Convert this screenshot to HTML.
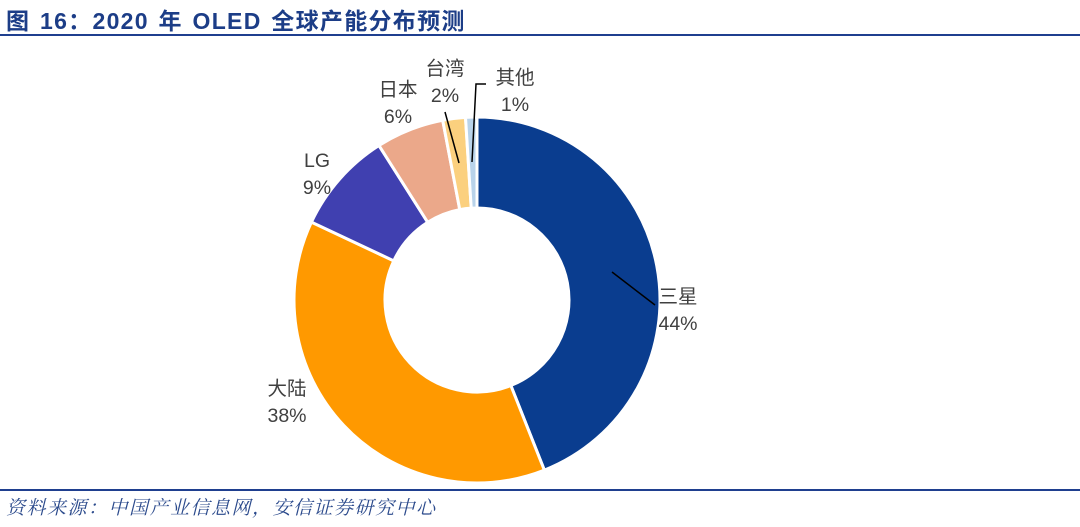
<!DOCTYPE html>
<html><head><meta charset="utf-8"><style>
body{margin:0;width:1080px;height:527px;background:#fff;overflow:hidden;font-family:"Liberation Sans","Noto Sans CJK SC",sans-serif;}
.t{position:absolute;left:6px;top:2px;font-size:23px;font-weight:bold;color:#1c3d87;letter-spacing:1.3px;word-spacing:2px}
.f{position:absolute;left:6px;top:493px;font-size:19px;font-style:italic;color:#2b4a8c;letter-spacing:1.5px;font-family:"Liberation Serif","Noto Serif CJK SC",serif}
</style></head><body>
<div class="t">图 16：2020 年 OLED 全球产能分布预测</div>
<div style="position:absolute;left:0;top:34px;width:1080px;height:2px;background:#1f3f8f"></div>
<div style="position:absolute;left:0;top:489px;width:1080px;height:2px;background:#1f3f8f"></div>
<div class="f">资料来源：中国产业信息网，安信证券研究中心</div>
<svg id="c" width="1080" height="527" style="position:absolute;left:0;top:0"></svg>
<script>
const categories=["三星","大陆","LG","日本","台湾","其他"];
const values=[44,38,9,6,2,1];
const colors=["#0a3d8f","#ff9900","#4040b0","#eba88a","#fbd07e","#b9d3ea"];
const svg=document.getElementById('c');const NS="http://www.w3.org/2000/svg";
const cx=477,cy=300,R=183,r=92;
const total=values.reduce((a,b)=>a+b,0);
let a0=0;
function pt(a,rad){return [cx+rad*Math.sin(a),cy-rad*Math.cos(a)];}
values.forEach((v,i)=>{
 const a1=a0+v/total*2*Math.PI;
 const p1=pt(a0,R),p2=pt(a1,R),p3=pt(a1,r),p4=pt(a0,r);
 const lg=(a1-a0)>Math.PI?1:0;
 const p=document.createElementNS(NS,'path');
 p.setAttribute('d',`M${p1}A${R},${R} 0 ${lg} 1 ${p2}L${p3}A${r},${r} 0 ${lg} 0 ${p4}Z`);
 p.setAttribute('fill',colors[i]);p.setAttribute('stroke','#fff');p.setAttribute('stroke-width','3');
 
 
 svg.appendChild(p);a0=a1;
});
const labels=[[678,296],[287,388],[317,160],[398,89],[445,68],[515,77]];
labels.forEach((l,i)=>{
 [categories[i],values[i]+'%'].forEach((s,k)=>{
  const t=document.createElementNS(NS,'text');
  t.setAttribute('x',l[0]);t.setAttribute('y',l[1]+k*27+7);
  t.setAttribute('text-anchor','middle');t.setAttribute('font-size','19.5');t.setAttribute('fill','#404040');
  t.setAttribute('font-family','"Liberation Sans","Noto Sans CJK SC",sans-serif');
  t.textContent=s;
  
  
  svg.appendChild(t);
 });
});
const leaders=["612,272 655,305","445,112 459,163","486,84 476,84 472,162"];
leaders.forEach((d,i)=>{
 const pl=document.createElementNS(NS,'polyline');
 pl.setAttribute('points',d);pl.setAttribute('fill','none');pl.setAttribute('stroke','#000');pl.setAttribute('stroke-width','1.5');
 
 
 svg.appendChild(pl);
});
</script>
</body></html>
